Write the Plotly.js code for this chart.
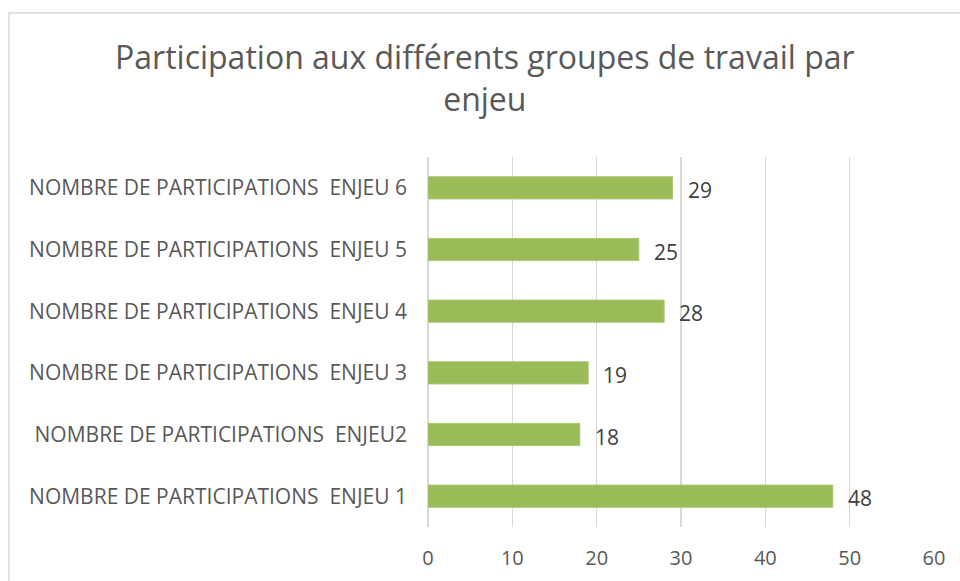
<!DOCTYPE html>
<html>
<head>
<meta charset="utf-8">
<script src="https://cdn.plot.ly/plotly-3.0.1.min.js"></script>
<style>
  html, body { margin: 0; padding: 0; background: #ffffff; }
  #chart { width: 960px; height: 581px; }
</style>
</head>
<body>
<div id="chart"></div>
<script>
const categories = [
  "NOMBRE DE PARTICIPATIONS\u00A0\u00A0ENJEU 1",
  "NOMBRE DE PARTICIPATIONS\u00A0\u00A0ENJEU2",
  "NOMBRE DE PARTICIPATIONS\u00A0\u00A0ENJEU 3",
  "NOMBRE DE PARTICIPATIONS\u00A0\u00A0ENJEU 4",
  "NOMBRE DE PARTICIPATIONS\u00A0\u00A0ENJEU 5",
  "NOMBRE DE PARTICIPATIONS\u00A0\u00A0ENJEU 6"
];
const values = [48, 18, 19, 28, 25, 29];
const tickValues = [0, 10, 20, 30, 40, 50, 60];
const titleText = "Participation aux différents groupes de travail par<br>enjeu";

const FONT = "Open Sans, Noto Sans, sans-serif";

const trace = {
  type: "bar",
  orientation: "h",
  y: categories,
  x: values,
  marker: { color: "#9BBB59", line: { color: "#A9C776", width: 1 } },
  hoverinfo: "x+y",
  cliponaxis: false
};

const annotations = values.map((v, i) => ({
  x: v, y: categories[i], xref: "x", yref: "y",
  text: String(v), showarrow: false,
  xanchor: "left", yanchor: "middle", xshift: 13, yshift: -2,
  font: { family: FONT, size: 21, color: "#404040" }
}));

const layout = {
  width: 960, height: 581,
  paper_bgcolor: "#ffffff", plot_bgcolor: "#ffffff",
  margin: { l: 428, r: 26, t: 157, b: 54 },
  title: {
    text: titleText,
    x: 0.505, xanchor: "center", xref: "container",
    y: 1 - 69 / 581, yanchor: "top", yref: "container",
    font: { family: FONT, size: 32, color: "#595959" }
  },
  bargap: 0.64,
  showlegend: false,
  xaxis: {
    range: [0, 60], tickvals: tickValues, ticktext: tickValues.map(String),
    showgrid: true, gridcolor: "#D9D9D9", gridwidth: 1.5,
    zeroline: true, zerolinecolor: "#D9D9D9", zerolinewidth: 1.5,
    showline: false, ticks: "",
    tickfont: { family: FONT, size: 20, color: "#595959" },
    ticklabelstandoff: 17, fixedrange: true
  },
  yaxis: {
    type: "category", categoryorder: "array", categoryarray: categories,
    showgrid: false, zeroline: false, showline: false, ticks: "",
    tickfont: { family: FONT, size: 21, color: "#595959" },
    ticklabelstandoff: 20, fixedrange: true
  },
  annotations: annotations,
  shapes: [{
    type: "path", xref: "paper", yref: "paper",
    path: "M " + ((9 - 428) / 506) + " " + (-54 / 370 - 0.2) +
          " L " + ((9 - 428) / 506) + " " + (1 + (157 - 13) / 370) +
          " L " + ((1000 - 428) / 506) + " " + (1 + (157 - 13) / 370),
    line: { color: "#D9D9D9", width: 1.5 }
  }]
};

Plotly.newPlot("chart", [trace], layout, { staticPlot: true, displayModeBar: false });
</script>
</body>
</html>
